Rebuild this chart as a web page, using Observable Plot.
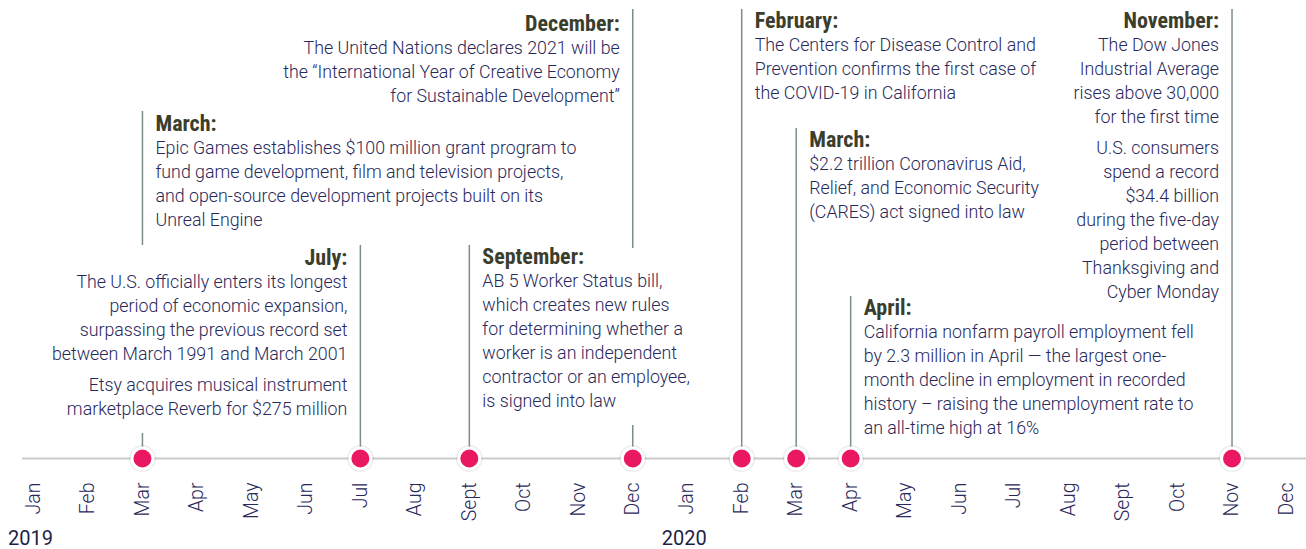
<!DOCTYPE html>
<html><head><meta charset="utf-8">
<script src="https://cdn.jsdelivr.net/npm/d3@7"></script>
<script src="https://cdn.jsdelivr.net/npm/@observablehq/plot@0.6"></script>
<style>body{margin:0;background:#fff;} svg{display:block;}</style>
</head><body><div id="chart"></div>
<script>
// ---- data ----
const monthLabels = ["Jan","Feb","Mar","Apr","May","Jun","Jul","Aug","Sept","Oct","Nov","Dec",
                     "Jan","Feb","Mar","Apr","May","Jun","Jul","Aug","Sept","Oct","Nov","Dec"];
const yearLabels = ["2019", "2020"];
const yearStartIndex = [0, 12];
const eventMonths = [2, 6, 8, 11, 13, 14, 15, 22];
const eventTitles = ["March:", "July:", "September:", "December:", "February:", "March:", "April:", "November:"];
const eventTexts = [
  [["Epic Games establishes $100 million grant program to", "fund game development, film and television projects,", "and open-source development projects built on its", "Unreal Engine"]],
  [["The U.S. officially enters its longest", "period of economic expansion,", "surpassing the previous record set", "between March 1991 and March 2001"],
   ["Etsy acquires musical instrument", "marketplace Reverb for $275 million"]],
  [["AB 5 Worker Status bill,", "which creates new rules", "for determining whether a", "worker is an independent", "contractor or an employee,", "is signed into law"]],
  [["The United Nations declares 2021 will be", "the \u201cInternational Year of Creative Economy", "for Sustainable Development\u201d"]],
  [["The Centers for Disease Control and", "Prevention confirms the first case of", "the COVID-19 in California"]],
  [["$2.2 trillion Coronavirus Aid,", "Relief, and Economic Security", "(CARES) act signed into law"]],
  [["California nonfarm payroll employment fell", "by 2.3 million in April \u2014 the largest one-", "month decline in employment in recorded", "history \u2013 raising the unemployment rate to", "an all-time high at 16%"]],
  [["The Dow Jones", "Industrial Average", "rises above 30,000", "for the first time"],
   ["U.S. consumers", "spend a record", "$34.4 billion", "during the five-day", "period between", "Thanksgiving and", "Cyber Monday"]]
];

// ---- layout (annotation placement, in pixel space of the y scale) ----
const layout = [
  {side: "right", title: 123, stems: [[111, 245], [433, 458]]},
  {side: "left",  title: 257, stems: [[245, 458]]},
  {side: "right", title: 256, stems: [[245, 458]]},
  {side: "left",  title: 23,  stems: [[9, 248], [425, 458]]},
  {side: "right", title: 20,  stems: [[9, 458]]},
  {side: "right", title: 139, stems: [[128, 458]]},
  {side: "right", title: 307, stems: [[296, 458]]},
  {side: "left",  title: 20,  stems: [[9, 458]]}
];
const axisY = 458, tickLabelY = 482, yearY = 538;
const titleGap = 25, lineGap = 24, paraGap = 31;

// ---- build rows ----
const titleRows = [], bodyRows = [], stemRows = [];
eventMonths.forEach((m, i) => {
  const L = layout[i];
  titleRows.push({x: m, y: L.title, text: eventTitles[i], side: L.side});
  let y = L.title + titleGap;
  eventTexts[i].forEach((para, p) => {
    if (p > 0) y += paraGap - lineGap;
    para.forEach(line => { bodyRows.push({x: m, y, text: line, side: L.side}); y += lineGap; });
  });
  L.stems.forEach(([y1, y2]) => stemRows.push({x: m, y1, y2}));
});
const monthRows = monthLabels.map((t, i) => ({x: i, text: t}));
const yearRows = yearLabels.map((t, i) => ({x: yearStartIndex[i], text: t}));
const eventRows = eventMonths.map(m => ({x: m}));

const titleFont = "'Liberation Sans Narrow', 'Roboto Condensed', 'DejaVu Sans Condensed', sans-serif";
const bodyFont = "Roboto, 'Noto Sans', sans-serif";
const bodyColor = "#28285a";
const titleColor = "#3b3e2c";

const textSide = (rows, opts) => [
  Plot.text(rows.filter(d => d.side === "right"), {...opts, textAnchor: "start", dx: 13}),
  Plot.text(rows.filter(d => d.side === "left"), {...opts, textAnchor: "end", dx: -13})
];

const chart = Plot.plot({
  width: 1306, height: 549,
  marginTop: 0, marginBottom: 0, marginLeft: 22, marginRight: 0,
  x: {type: "point", domain: d3.range(monthLabels.length), range: [33, 1286], padding: 0, round: false, axis: null},
  y: {domain: [0, 549], range: [0, 549], axis: null},
  style: {background: "#fff", overflow: "visible"},
  marks: [
    Plot.ruleY([axisY], {stroke: "#cbcbcb", strokeWidth: 2}),
    Plot.ruleX(stemRows, {x: "x", y1: "y1", y2: "y2", stroke: "#7e8d88", strokeWidth: 1.5}),
    ...textSide(titleRows, {x: "x", y: "y", text: "text", lineAnchor: "middle", fontFamily: titleFont, fontWeight: "bold", fontSize: 22, fill: titleColor}),
    ...textSide(bodyRows, {x: "x", y: "y", text: "text", lineAnchor: "middle", fontFamily: bodyFont, fontWeight: 300, fontSize: 17.8, fill: bodyColor}),
    Plot.dot(eventRows, {x: "x", y: () => axisY, r: 13.5, fill: "#000", fillOpacity: 0.07, stroke: "none"}),
    Plot.dot(eventRows, {x: "x", y: () => axisY, r: 10.5, fill: "#ea1763", stroke: "#fff", strokeWidth: 3}),
    Plot.text(monthRows, {x: "x", y: () => tickLabelY, text: "text", rotate: -90, textAnchor: "end", lineAnchor: "middle", fontFamily: bodyFont, fontWeight: 300, fontSize: 19.5, fill: bodyColor}),
    Plot.text(yearRows, {x: "x", y: () => yearY, text: "text", textAnchor: "middle", dx: -3, lineAnchor: "middle", fontFamily: bodyFont, fontSize: 20, fontWeight: 400, fill: "#1f1f45"})
  ]
});
document.getElementById("chart").append(chart);
</script>
</body></html>
